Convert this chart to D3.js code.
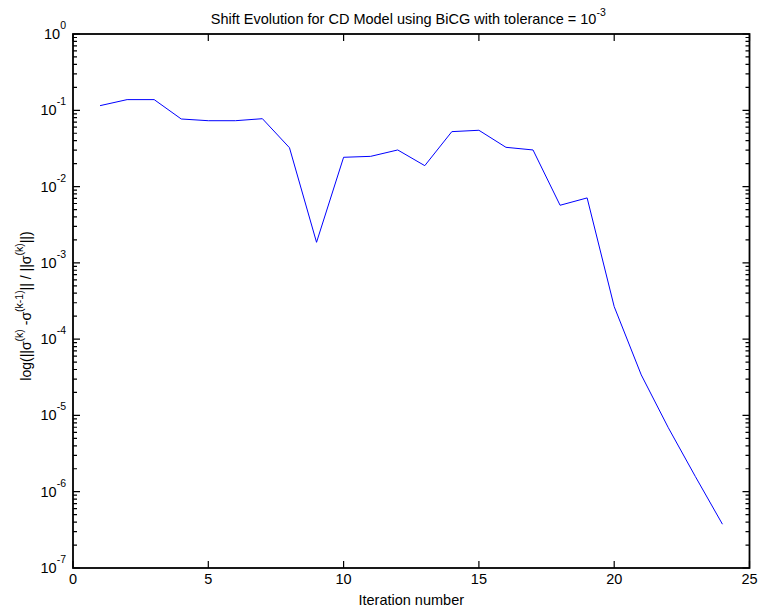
<!DOCTYPE html>
<html>
<head>
<meta charset="utf-8">
<script src="https://cdn.jsdelivr.net/npm/d3@7"></script>
<style>
  body { margin: 0; background: #fff; }
  svg { font-family: "Liberation Sans", Arial, sans-serif; }
  text { white-space: pre; }
</style>
</head>
<body>
<div id="chart"></div>
<script>
  // ── Data ───────────────────────────────────────────────────
  var iterations = [1, 2, 3, 4, 5, 6, 7, 8, 9, 10, 11, 12, 13, 14, 15, 16, 17, 18, 19, 20, 21, 22, 23, 24];
  var shiftChange = [
    0.115, 0.138, 0.138, 0.0769, 0.073, 0.073, 0.0776, 0.0323, 0.00186, 0.0242,
    0.0249, 0.0302, 0.0188, 0.0525, 0.0547, 0.0327, 0.0302, 0.00569, 0.0071,
    0.000267, 3.4e-5, 6.9e-6, 1.58e-6, 3.75e-7
  ];
  var xTicks = [0, 5, 10, 15, 20, 25];
  var yExponents = [0, -1, -2, -3, -4, -5, -6, -7];

  var width = 758, height = 613;
  var margin = { top: 34, right: 8.5, bottom: 45, left: 73 };
  var innerWidth = width - margin.left - margin.right;
  var innerHeight = height - margin.top - margin.bottom;
  var FS = 14.5, SUP = 10.5;

  var svg = d3.select("#chart").append("svg")
    .attr("width", width)
    .attr("height", height);

  var g = svg.append("g")
    .attr("transform", "translate(" + margin.left + "," + margin.top + ")");

  var x = d3.scaleLinear().domain([0, 25]).range([0, innerWidth]);
  var y = d3.scaleLog().domain([1e-7, 1]).range([innerHeight, 0]);

  // minor ticks (2..9 in each decade)
  var minor = [];
  for (var e = -7; e < 0; e++) {
    for (var m = 2; m <= 9; m++) minor.push(m * Math.pow(10, e));
  }
  var major = yExponents.map(function (p) { return Math.pow(10, p); });

  /**
   * Lay out a run of [text, superscript?] pieces as separate text nodes.
   */
  function richText(parent, pieces, anchor, supShift) {
    var grp = parent.append("g");
    var nodes = pieces.map(function (p) {
      return grp.append("text")
        .attr("font-size", p[1] ? SUP : FS)
        .attr("y", p[1] ? -supShift : 0)
        .text(p[0]);
    });
    var widths = nodes.map(function (n) { return n.node().getComputedTextLength(); });
    var total = d3.sum(widths);
    var start = anchor === "end" ? -total : anchor === "middle" ? -total / 2 : 0;
    nodes.forEach(function (n, i) {
      n.attr("x", start);
      start += widths[i];
    });
    return grp;
  }

  // ── Ticks (inward, on all four sides) ──────────────────────
  var tickPath = d3.path();
  xTicks.forEach(function (d) {
    tickPath.moveTo(x(d), 0); tickPath.lineTo(x(d), 7);
    tickPath.moveTo(x(d), innerHeight); tickPath.lineTo(x(d), innerHeight - 7);
  });
  major.forEach(function (d) {
    tickPath.moveTo(0, y(d)); tickPath.lineTo(7, y(d));
    tickPath.moveTo(innerWidth, y(d)); tickPath.lineTo(innerWidth - 7, y(d));
  });
  minor.forEach(function (d) {
    tickPath.moveTo(0, y(d)); tickPath.lineTo(4, y(d));
    tickPath.moveTo(innerWidth, y(d)); tickPath.lineTo(innerWidth - 4, y(d));
  });
  g.append("path")
    .attr("d", tickPath.toString())
    .attr("fill", "none")
    .attr("stroke", "#000")
    .attr("stroke-width", 1.2);

  // frame
  g.append("rect")
    .attr("width", innerWidth)
    .attr("height", innerHeight)
    .attr("fill", "none")
    .attr("stroke", "#000")
    .attr("stroke-width", 1.8);

  // x tick labels
  g.selectAll(".xlab").data(xTicks).enter().append("text")
    .attr("class", "xlab")
    .attr("x", function (d) { return x(d); })
    .attr("y", innerHeight + 16)
    .attr("text-anchor", "middle")
    .attr("font-size", FS)
    .text(function (d) { return d; });

  // y tick labels: 10 with superscript exponent
  yExponents.forEach(function (p) {
    richText(g, [["10", false], [String(p), true]], "end", 10)
      .attr("transform", "translate(-7," + (y(Math.pow(10, p)) + 5) + ")");
  });

  // line
  var line = d3.line()
    .x(function (d, i) { return x(iterations[i]); })
    .y(function (d) { return y(d); });

  g.append("path")
    .datum(shiftChange)
    .attr("fill", "none")
    .attr("stroke", "#0000ff")
    .attr("stroke-width", 1)
    .attr("d", line);

  // title
  richText(svg, [
    ["Shift Evolution for CD Model using BiCG with tolerance = 10", false],
    ["-3", true]
  ], "middle", 8)
    .attr("transform", "translate(" + (margin.left + innerWidth / 2 - 3) + ",24)");

  // x label
  svg.append("text")
    .attr("x", margin.left + innerWidth / 2)
    .attr("y", 605)
    .attr("text-anchor", "middle")
    .attr("font-size", FS)
    .text("Iteration number");

  // y label
  FS = 14;
  richText(svg, [
    ["log(||σ", false], ["(k)", true],
    [" -σ", false], ["(k-1)", true],
    ["|| / ||σ", false], ["(k)", true],
    ["||)", false]
  ], "middle", 8)
    .attr("transform", "translate(31," + (margin.top + innerHeight / 2 + 5) + ") rotate(-90)");
</script>
</body>
</html>
